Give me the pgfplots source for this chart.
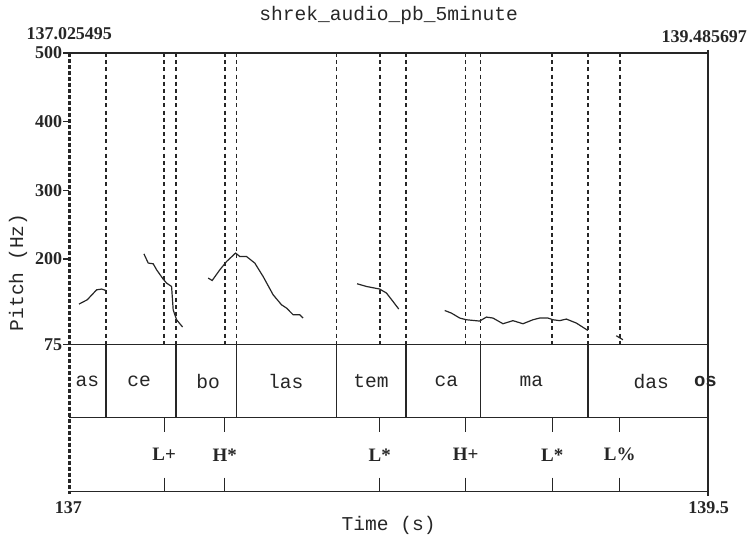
\documentclass[border=0pt]{standalone}
\usepackage{pgfplots}
\pgfplotsset{compat=1.18}
\usepackage{fontspec}
\setmainfont{Liberation Serif}
\newfontfamily\mono{Liberation Mono}
\definecolor{ink}{gray}{0.15}
\tikzset{tierlab/.style={font=\mono\fontsize{9.8}{9.8}\selectfont, text=ink},
         tonelab/.style={font=\bfseries\fontsize{9.5}{9.5}\selectfont, text=ink},
         numlab/.style={font=\bfseries\fontsize{9}{9}\selectfont, text=ink}}
\begin{document}
\begin{tikzpicture}
\path[use as bounding box] (-34.75pt,-22pt) rectangle (342pt,246pt);
\begin{axis}[at={(0,0)}, anchor=south west,
  width=319.5pt, height=219.5pt, scale only axis,
  xmin=137, xmax=139.5, ymin=-139, ymax=500, clip=false,
  axis line style={draw=none},
  xtick=\empty, ytick={75,200,300,400,500}, yticklabels={75,200,300,400,500},
  tick pos=left, tick align=outside, major tick length=3pt,
  tick style={ink, line width=0.6pt},
  yticklabel style={font=\bfseries\fontsize{9}{9}\selectfont, inner sep=0.5pt, text=ink},
  every axis plot/.append style={ink},
]
% frame lines
\addplot[line width=0.65pt] coordinates {(137,500)(139.5,500)};
\addplot[line width=0.65pt] coordinates {(137,75)(139.5,75)};
\addplot[line width=0.65pt] coordinates {(137,-31.3)(139.5,-31.3)};
\addplot[line width=0.65pt] coordinates {(137,-139)(139.5,-139)};
\addplot[line width=0.75pt] coordinates {(139.5,504.5)(139.5,-146)};
\addplot[line width=1.1pt, dash pattern=on 2pt off 1pt] coordinates {(137,500)(137,-143)};
% dashed boundary lines in pitch area
\foreach \xx in {137.143,137.371,137.417,137.608,137.654,138.045,138.215,138.317,138.551,138.609,138.890,139.030,139.154}{
  \edef\tmp{\noexpand\addplot[line width=0.85pt, dash pattern=on 2pt off 1.6pt] coordinates {(\xx,500)(\xx,75)};}
  \tmp
}
% tier 1 interval boundaries
\foreach \xx in {137.143,137.417,137.654,138.045,138.317,138.609,139.030}{
  \edef\tmp{\noexpand\addplot[line width=0.65pt] coordinates {(\xx,-31.3)(\xx,75)};}
  \tmp
}
% tier 2 point ticks
\foreach \xx in {137.371,137.608,138.215,138.551,138.890,139.154}{
  \edef\tmp{\noexpand\addplot[line width=0.65pt] coordinates {(\xx,-31.3)(\xx,-51.7)};
  \noexpand\addplot[line width=0.65pt] coordinates {(\xx,-118.6)(\xx,-139)};}
  \tmp
}
% pitch contour
\addplot[line width=0.6pt] coordinates {(137.0372,134.2)(137.0696,140.5)(137.1064,155.0)(137.126,156.1)(137.1428,154.0)};
\addplot[line width=0.6pt] coordinates {(137.2915,207.4)(137.3083,194.0)(137.3279,192.9)(137.3412,184.2)(137.367,170.6)(137.3803,164.8)(137.3998,159.9)(137.4061,125.9)(137.4194,111.4)(137.4429,100.8)};
\addplot[line width=0.6pt] coordinates {(137.543,172.1)(137.5587,168.6)(137.5888,184.2)(137.615,196.2)(137.6502,208.5)(137.6671,203.5)(137.6933,203.5)(137.7257,193.9)(137.7582,174.4)(137.7973,147.8)(137.8302,133.2)(137.8498,128.4)(137.8756,118.7)(137.9018,118.7)(137.9147,113.9)};
\addplot[line width=0.6pt] coordinates {(138.126,163.8)(138.1628,159.9)(138.2148,156.1)(138.241,150.3)(138.2668,138.0)(138.2891,127.0)};
\addplot[line width=0.6pt] coordinates {(138.4691,124.9)(138.4953,121.1)(138.5278,113.9)(138.554,111.4)(138.606,109.5)(138.6322,115.3)(138.658,113.9)(138.6972,105.6)(138.7363,110.1)(138.7754,105.6)(138.8146,111.4)(138.8408,113.9)(138.8732,113.9)(138.8928,111.4)(138.919,110.1)(138.9452,112.4)(138.9844,106.6)(139.0297,95.8)};
\addplot[line width=0.6pt] coordinates {(139.1408,88.1)(139.1667,82.3)};
% tier 1 labels
\node[tierlab] at (axis cs:137.070,21.85) {as};
\node[tierlab] at (axis cs:137.273,21.85) {ce};
\node[tierlab] at (axis cs:137.543,21.85) {bo};
\node[tierlab] at (axis cs:137.847,21.85) {las};
\node[tierlab] at (axis cs:138.181,21.85) {tem};
\node[tierlab] at (axis cs:138.476,21.85) {ca};
\node[tierlab] at (axis cs:138.808,21.85) {ma};
\node[tierlab] at (axis cs:139.278,21.85) {das};
\node[tierlab, font=\mono\bfseries\fontsize{9.5}{9.5}\selectfont] at (axis cs:139.490,21.85) {os};
% tier 2 labels
\node[tonelab] at (axis cs:137.371,-85.2) {L+};
\node[tonelab] at (axis cs:137.608,-85.2) {H*};
\node[tonelab] at (axis cs:138.215,-85.2) {L*};
\node[tonelab] at (axis cs:138.551,-85.2) {H+};
\node[tonelab] at (axis cs:138.890,-85.2) {L*};
\node[tonelab] at (axis cs:139.154,-85.2) {L\%};
% corner labels
\node[numlab] at (axis cs:136.9992,527.7) {137.025495};
\node[numlab] at (axis cs:139.4852,523.7) {139.485697};
\node[numlab] at (axis cs:136.9961,-162.3) {137};
\node[numlab] at (axis cs:139.5026,-162.3) {139.5};
% titles
\node[tierlab] at (axis cs:138.25,555.3) {shrek\_audio\_pb\_5minute};
\node[tierlab] at (axis cs:138.25,-188.4) {Time (s)};
\node[tierlab, rotate=90] at (axis cs:136.7985,180.5) {Pitch (Hz)};
\end{axis}
\end{tikzpicture}
\end{document}
